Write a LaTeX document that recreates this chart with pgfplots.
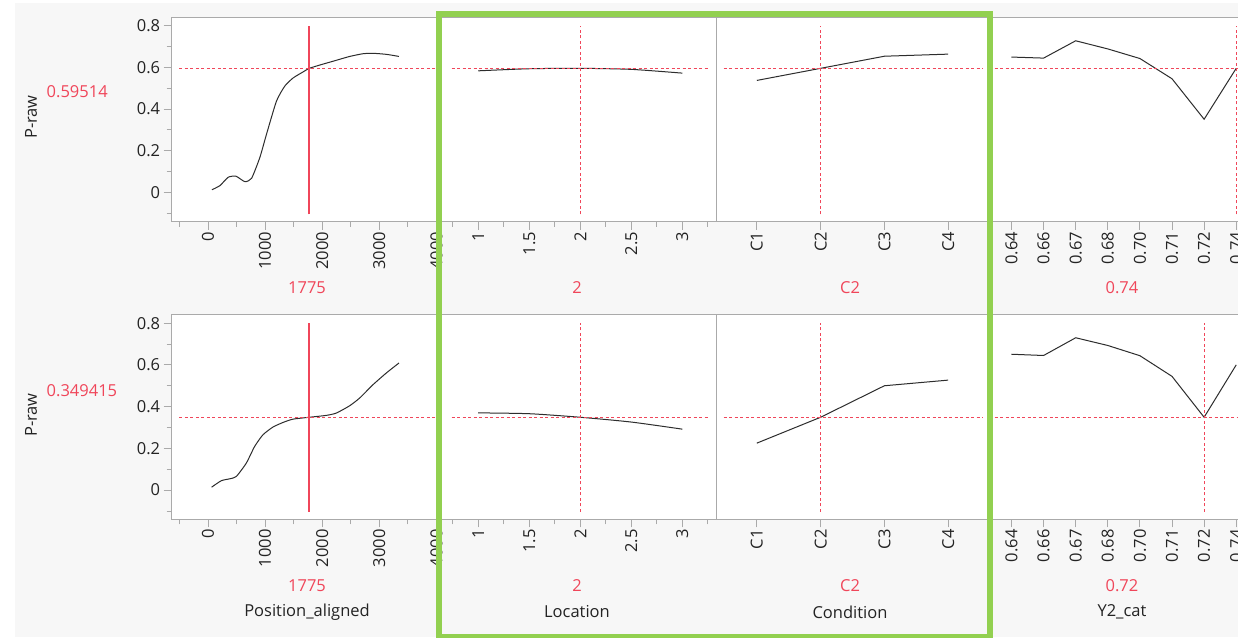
\documentclass[border=0pt]{standalone}
\usepackage{fontspec}
\setmainfont{Open Sans}
\usepackage{pgfplots}
\pgfplotsset{compat=1.18}
\definecolor{bg}{RGB}{247,247,247}
\definecolor{framec}{RGB}{170,170,170}
\definecolor{jred}{RGB}{240,70,90}
\definecolor{curvec}{RGB}{45,45,45}
\definecolor{txt}{RGB}{35,35,35}
\definecolor{jgreen}{RGB}{146,208,80}
\newcommand\tf{\fontsize{16.5}{19}\selectfont}
\tikzset{
  hl/.style={draw=jred, color=jred, line width=1.1pt, dash pattern=on 3pt off 2.5pt},
  sl/.style={draw=jred, color=jred, line width=1.7pt, solid},
  cv/.style={draw=curvec, line width=1pt},
}
\pgfplotsset{
  prof/.style={
    scale only axis, height=204.5pt, ymin=-0.14, ymax=0.84,
    anchor=south west,
    axis background/.style={fill=white},
    axis line style={draw=framec, line width=0.9pt},
    tick style={draw=framec, line width=0.9pt},
    tick align=outside, major tick length=8pt, minor tick length=5pt,
    xtick pos=left, ytick pos=left,
    xticklabel style={rotate=90, anchor=east, font=\tf, text=txt, inner sep=2pt},
    yticklabel style={font=\tf, text=txt},
    /pgf/number format/assume math mode=true,
    ytick=\empty,
  },
}
\begin{document}
\begin{tikzpicture}[x=1pt,y=1pt]
\path[use as bounding box] (0,0) rectangle (1238,637);
\clip (0,0) rectangle (1238,637);
\fill[white] (0,0) rectangle (1238,637);
\fill[bg] (15,0) rectangle (1238,634);

% ---------------- Row 1 ----------------
\begin{axis}[prof, at={(171.7pt,415.3pt)}, width=269.8pt, xmin=-635, xmax=4090,
  xtick={0,1000,2000,3000,4000}, xticklabels={0,1000,2000,3000,4000},
  minor xtick={-500,500,1500,2500,3500},
  ytick={0,0.2,0.4,0.6,0.8}, yticklabels={0,0.2,0.4,0.6,0.8},
  minor ytick={-0.1,0.1,0.3,0.5,0.7}]
\addplot[cv, no marks, smooth, tension=0.35] coordinates {
(70,0.013) (210,0.033) (355,0.073) (490,0.078) (647,0.052) (764,0.068)
(909,0.168) (1026,0.28) (1200,0.438) (1346,0.51) (1492,0.549) (1667,0.578)
(1775,0.595) (1987,0.613) (2191,0.629) (2483,0.652) (2716,0.665) (2890,0.667)
(3124,0.662) (3345,0.652)};
\draw[hl] (axis cs:-500,0.59514) -- (axis cs:4090,0.59514);
\draw[sl] (axis cs:1775,-0.105) -- (axis cs:1775,0.8);
\end{axis}

\begin{axis}[prof, at={(441.5pt,415.3pt)}, width=274.5pt, xmin=0.64, xmax=3.33,
  xtick={1,1.5,2,2.5,3}, xticklabels={1,1.5,2,2.5,3},
  minor xtick={0.75,1.25,1.75,2.25,2.75,3.25}]
\addplot[cv, no marks, smooth, tension=0.4] coordinates {
(1,0.583) (1.5,0.593) (2,0.595) (2.5,0.590) (3,0.572)};
\draw[hl] (axis cs:0.74,0.59514) -- (axis cs:3.26,0.59514);
\draw[hl] (axis cs:2,-0.105) -- (axis cs:2,0.8);
\end{axis}

\begin{axis}[prof, at={(716pt,415.3pt)}, width=273pt, xmin=0.36, xmax=4.64,
  xtick={1,2,3,4}, xticklabels={C1,C2,C3,C4}]
\addplot[cv, no marks] coordinates {(1,0.537) (2,0.595) (3,0.653) (4,0.663)};
\draw[hl] (axis cs:0.48,0.59514) -- (axis cs:4.55,0.59514);
\draw[hl] (axis cs:2,-0.105) -- (axis cs:2,0.8);
\end{axis}

\begin{axis}[prof, at={(989pt,415.3pt)}, width=270pt, xmin=-0.70, xmax=7.71,
  xtick={0,1,2,3,4,5,6,7}, xticklabels={0.64,0.66,0.67,0.68,0.70,0.71,0.72,0.74}]
\addplot[cv, no marks] coordinates {(0,0.649) (1,0.644) (2,0.727) (3,0.688) (4,0.642) (5,0.545) (6,0.351) (7,0.595)};
\draw[hl] (axis cs:-0.7,0.59514) -- (axis cs:7.6,0.59514);
\draw[hl] (axis cs:7,-0.105) -- (axis cs:7,0.8);
\end{axis}

% ---------------- Row 2 ----------------
\begin{axis}[prof, at={(171.7pt,117.7pt)}, width=269.8pt, xmin=-635, xmax=4090,
  xtick={0,1000,2000,3000,4000}, xticklabels={0,1000,2000,3000,4000},
  minor xtick={-500,500,1500,2500,3500},
  ytick={0,0.2,0.4,0.6,0.8}, yticklabels={0,0.2,0.4,0.6,0.8},
  minor ytick={-0.1,0.1,0.3,0.5,0.7}]
\addplot[cv, no marks, smooth, tension=0.35] coordinates {
(64,0.014) (234,0.045) (380,0.054) (496,0.065) (671,0.129) (817,0.209)
(963,0.265) (1138,0.302) (1314,0.324) (1489,0.340) (1775,0.349) (2072,0.358)
(2247,0.369) (2481,0.404) (2656,0.441) (2890,0.505) (3123,0.561) (3345,0.609)};
\draw[hl] (axis cs:-500,0.349415) -- (axis cs:4090,0.349415);
\draw[sl] (axis cs:1775,-0.105) -- (axis cs:1775,0.8);
\end{axis}

\begin{axis}[prof, at={(441.5pt,117.7pt)}, width=274.5pt, xmin=0.64, xmax=3.33,
  xtick={1,1.5,2,2.5,3}, xticklabels={1,1.5,2,2.5,3},
  minor xtick={0.75,1.25,1.75,2.25,2.75,3.25}]
\addplot[cv, no marks, smooth, tension=0.4] coordinates {
(1,0.370) (1.5,0.366) (2,0.349) (2.5,0.326) (3,0.292)};
\draw[hl] (axis cs:0.74,0.349415) -- (axis cs:3.26,0.349415);
\draw[hl] (axis cs:2,-0.105) -- (axis cs:2,0.8);
\end{axis}

\begin{axis}[prof, at={(716pt,117.7pt)}, width=273pt, xmin=0.36, xmax=4.64,
  xtick={1,2,3,4}, xticklabels={C1,C2,C3,C4}]
\addplot[cv, no marks] coordinates {(1,0.225) (2,0.349) (3,0.500) (4,0.527)};
\draw[hl] (axis cs:0.48,0.349415) -- (axis cs:4.55,0.349415);
\draw[hl] (axis cs:2,-0.105) -- (axis cs:2,0.8);
\end{axis}

\begin{axis}[prof, at={(989pt,117.7pt)}, width=270pt, xmin=-0.70, xmax=7.71,
  xtick={0,1,2,3,4,5,6,7}, xticklabels={0.64,0.66,0.67,0.68,0.70,0.71,0.72,0.74}]
\addplot[cv, no marks] coordinates {(0,0.651) (1,0.645) (2,0.730) (3,0.693) (4,0.644) (5,0.545) (6,0.349) (7,0.600)};
\draw[hl] (axis cs:-0.7,0.349415) -- (axis cs:7.6,0.349415);
\draw[hl] (axis cs:6,-0.105) -- (axis cs:6,0.8);
\end{axis}

% ---------------- Labels ----------------
\node[rotate=90, font=\tf, text=txt] at (31,520) {P-raw};
\node[rotate=90, font=\tf, text=txt] at (31,222) {P-raw};
\node[anchor=west, font=\tf, text=jred, inner sep=0pt] at (46.5,545) {0.59514};
\node[anchor=west, font=\tf, text=jred, inner sep=0pt] at (46.5,246) {0.349415};

\node[font=\tf, text=jred] at (307,349) {1775};
\node[font=\tf, text=jred] at (577,349) {2};
\node[font=\tf, text=jred] at (850,349) {C2};
\node[font=\tf, text=jred] at (1122,349) {0.74};

\node[font=\tf, text=jred] at (307,51) {1775};
\node[font=\tf, text=jred] at (577,51) {2};
\node[font=\tf, text=jred] at (850,51) {C2};
\node[font=\tf, text=jred] at (1122,51) {0.72};

\node[font=\tf, text=txt] at (307,25) {Position\_aligned};
\node[font=\tf, text=txt] at (577,25) {Location};
\node[font=\tf, text=txt] at (850,25) {Condition};
\node[font=\tf, text=txt] at (1122,25) {Y2\_cat};

% ---------------- Green highlight ----------------
\draw[jgreen, line width=6pt] (439,0) rectangle (989.5,622.5);
\end{tikzpicture}
\end{document}
